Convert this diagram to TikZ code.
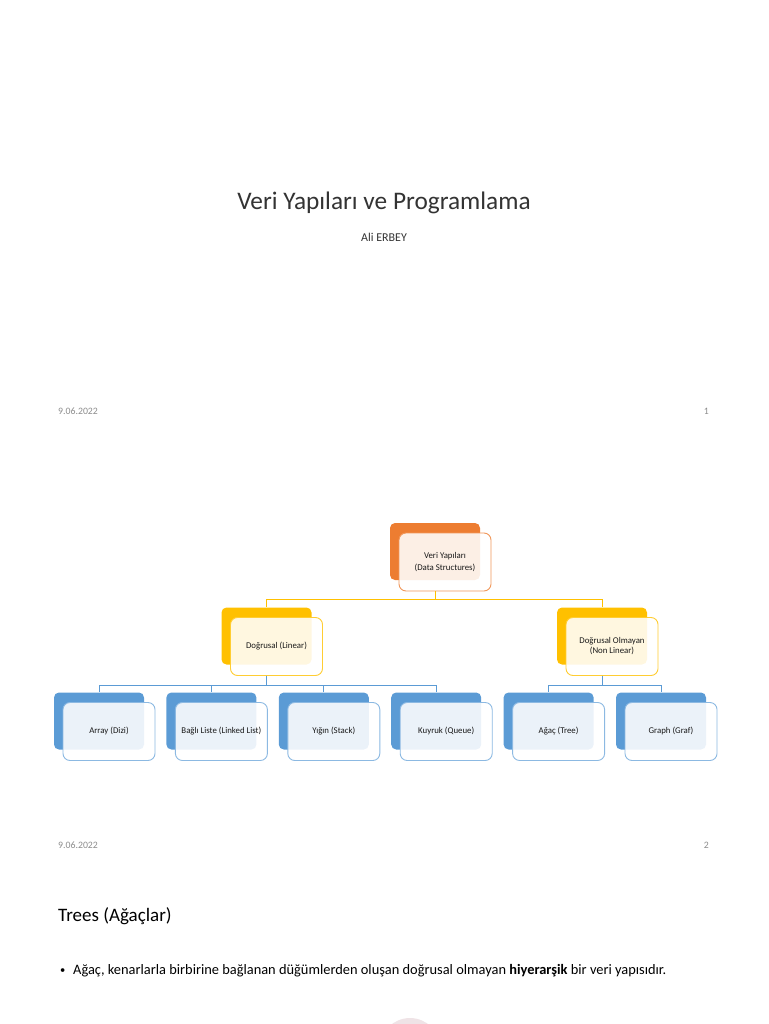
\documentclass[tikz,border=0pt]{standalone}
\usepackage{fontspec}
\setmainfont{Carlito}
\usepackage{xcolor}
\usepackage{tikz}
\usetikzlibrary{positioning}
\definecolor{acorange}{HTML}{ED7D31}
\definecolor{acgold}{HTML}{FFC000}
\definecolor{acblue}{HTML}{5B9BD5}
\definecolor{slidetext}{HTML}{333333}
\definecolor{footgray}{HTML}{8C8C8C}
\definecolor{blush}{HTML}{EFE3E6}
\tikzset{
  backbox/.style={rectangle, rounded corners=5pt, inner sep=0pt,
                  minimum width=90pt, minimum height=57pt},
  frontbox/.style={rectangle, rounded corners=7pt, fill=white, fill opacity=0.88,
                   text opacity=1, line width=0.9pt, inner sep=1pt, align=center,
                   minimum width=92pt, minimum height=58pt, text=black!90,
                   font=\fontsize{8.8}{12}\selectfont},
  oneline/.style={frontbox, text height=6.6pt, text depth=2pt},
  conn/.style={line width=0.8pt},
  foot/.style={font=\fontsize{9.8}{12}\selectfont, text=footgray},
}

\begin{document}
\begin{tikzpicture}[x=1pt, y=-1pt]
    \useasboundingbox (0,0) rectangle (768,1024);
    % slide 1
    \node[anchor=base, font=\fontsize{25.3}{28}\selectfont, text=slidetext] (title) at (384,210) {Veri Yapıları ve Programlama};
    \node[anchor=base, font=\fontsize{12}{14}\selectfont, text=slidetext] (author) at (384,241) {Ali ERBEY};
    \node[foot, anchor=base west, inner sep=0pt] (date1) at (58,414) {9.06.2022};
    \node[foot, anchor=base east, inner sep=0pt] (page1) at (709,414) {1};
    % slide 2
    \node[backbox, fill=acorange] (rootb) at (435,551.5) {};
    \node[frontbox, draw=acorange!80!white] (rootf) at ([shift={(10,10.5)}]rootb.center) {Veri Yapıları\\(Data Structures)};
    \node[backbox, fill=acgold] (linb) at (266.5,636) {};
    \node[oneline, draw=acgold!80!white] (linf) at ([shift={(10,10.5)}]linb.center) {Doğrusal (Linear)};
    \node[backbox, fill=acgold] (nonb) at (602,636) {};
    \node[frontbox, draw=acgold!80!white] (nonf) at ([shift={(10,10.5)}]nonb.center) {Doğrusal Olmayan\\[-2pt](Non Linear)};
    \node[backbox, fill=acblue] (arrayb) at (99,721) {};
    \node[backbox, fill=acblue, right=22pt of arrayb] (listb) {};
    \node[backbox, fill=acblue, right=22pt of listb] (stackb) {};
    \node[backbox, fill=acblue, right=22pt of stackb] (queueb) {};
    \node[backbox, fill=acblue, right=22pt of queueb] (treeb) {};
    \node[backbox, fill=acblue, right=22pt of treeb] (graphb) {};
    \node[oneline, draw=acblue!70!white] (arrayf) at ([shift={(10,10.5)}]arrayb.center) {Array (Dizi)};
    \node[oneline, draw=acblue!70!white] (listf) at ([shift={(10,10.5)}]listb.center) {Bağlı Liste (Linked List)};
    \node[oneline, draw=acblue!70!white] (stackf) at ([shift={(10,10.5)}]stackb.center) {Yığın (Stack)};
    \node[oneline, draw=acblue!70!white] (queuef) at ([shift={(10,10.5)}]queueb.center) {Kuyruk (Queue)};
    \node[oneline, draw=acblue!70!white] (treef) at ([shift={(10,10.5)}]treeb.center) {Ağaç (Tree)};
    \node[oneline, draw=acblue!70!white] (graphf) at ([shift={(10,10.5)}]graphb.center) {Graph (Graf)};
    \draw[conn, acgold] (rootf.south -| rootb.center) -- ++(0,8) -| (linb.north);
    \draw[conn, acgold] (rootf.south -| rootb.center) -- ++(0,8) -| (nonb.north);
    \foreach \kid in {arrayb, listb, stackb, queueb}
      \draw[conn, acblue] (linf.south -| linb.center) -- ++(0,9) -| (\kid.north);
    \foreach \kid in {treeb, graphb}
      \draw[conn, acblue] (nonf.south -| nonb.center) -- ++(0,9) -| (\kid.north);
    \node[foot, anchor=base west, inner sep=0pt] (date2) at (58,848) {9.06.2022};
    \node[foot, anchor=base east, inner sep=0pt] (page2) at (709,848) {2};
    % slide 3
    \node[anchor=base west, inner sep=0pt, font=\fontsize{19}{22}\selectfont, text=black] (heading) at (58,921) {Trees (Ağaçlar)};
    \node[anchor=base west, inner sep=0pt, font=\fontsize{10.5}{16}\selectfont, text=black] (bullet) at (60,973) {•};
    \node[anchor=base west, inner sep=0pt, font=\fontsize{14.4}{17}\selectfont, text=black] (point) at (73,974) {Ağaç, kenarlarla birbirine bağlanan düğümlerden oluşan doğrusal olmayan \textbf{hiyerarşik} bir veri yapısıdır.};
    \fill[blush] (410,1048) circle (30);
\end{tikzpicture}
\end{document}
